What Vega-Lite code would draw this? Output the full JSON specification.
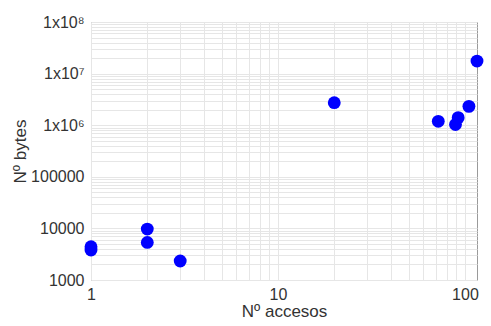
{
  "$schema": "https://vega.github.io/schema/vega-lite/v6.json",
  "width": 386,
  "height": 258,
  "autosize": {"type": "none"},
  "padding": {"left": 91, "top": 22, "right": 14, "bottom": 46},
  "background": "white",
  "config": {
    "font": "Liberation Sans",
    "view": {"stroke": "#9a9a9a", "strokeWidth": 1},
    "axis": {
      "labelFont": "Liberation Sans",
      "titleFont": "Liberation Sans",
      "labelColor": "#333333",
      "titleColor": "#333333",
      "labelFontSize": 16,
      "titleFontSize": 17,
      "titleFontWeight": "normal",
      "gridColor": "#e6e6e6",
      "gridWidth": 1,
      "ticks": false,
      "domain": false
    }
  },
  "data": {
    "values": [
      {"accesos": 1, "bytes": 4400},
      {"accesos": 1, "bytes": 3800},
      {"accesos": 2, "bytes": 9700},
      {"accesos": 2, "bytes": 5350},
      {"accesos": 3, "bytes": 2330},
      {"accesos": 20, "bytes": 2730000},
      {"accesos": 72, "bytes": 1190000},
      {"accesos": 89, "bytes": 1030000},
      {"accesos": 92, "bytes": 1400000},
      {"accesos": 105, "bytes": 2320000},
      {"accesos": 116, "bytes": 17500000}
    ]
  },
  "mark": {"type": "circle", "size": 165, "color": "#0000ff", "opacity": 1},
  "encoding": {
    "x": {
      "field": "accesos",
      "type": "quantitative",
      "scale": {"type": "log", "domain": [1, 116], "nice": false},
      "axis": {
        "title": "Nº accesos",
        "values": [1, 2, 3, 4, 5, 6, 7, 8, 9, 10, 20, 30, 40, 50, 60, 70, 80, 90, 100],
        "labelExpr": "datum.value == 1 || datum.value == 10 || datum.value == 100 ? datum.value : ''",
        "labelPadding": 6,
        "titlePadding": 1,
        "labelFlush": false
      }
    },
    "y": {
      "field": "bytes",
      "type": "quantitative",
      "scale": {"type": "log", "domain": [1000, 100000000], "nice": false},
      "axis": {
        "title": "Nº bytes",
        "values": [1000, 2000, 3000, 4000, 5000, 6000, 7000, 8000, 9000,
                   10000, 20000, 30000, 40000, 50000, 60000, 70000, 80000, 90000,
                   100000, 200000, 300000, 400000, 500000, 600000, 700000, 800000, 900000,
                   1000000, 2000000, 3000000, 4000000, 5000000, 6000000, 7000000, 8000000, 9000000,
                   10000000, 20000000, 30000000, 40000000, 50000000, 60000000, 70000000, 80000000, 90000000,
                   100000000],
        "labelExpr": "datum.value == 1000 ? '1000' : datum.value == 10000 ? '10000' : datum.value == 100000 ? '100000' : datum.value == 1000000 ? '1x10⁶' : datum.value == 10000000 ? '1x10⁷' : datum.value == 100000000 ? '1x10⁸' : ''",
        "labelPadding": 7,
        "titlePadding": 1,
        "labelFlush": false
      }
    }
  }
}
